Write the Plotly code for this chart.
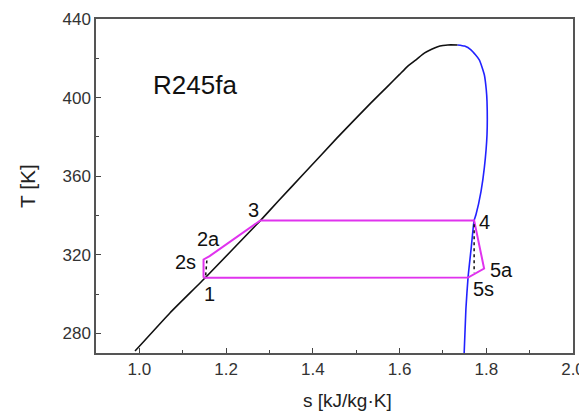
import plotly.graph_objects as go

# Saturated liquid line (black)
liq_s = [0.990, 1.071, 1.152, 1.279, 1.3215, 1.379, 1.4565, 1.5335, 1.572, 1.600, 1.618, 1.640, 1.657, 1.674, 1.688, 1.700, 1.711, 1.734]
liq_T = [271.0, 290.5, 308.3, 337.4, 347.6, 361.2, 379.6, 397.2, 405.6, 411.8, 415.8, 419.6, 422.6, 424.6, 425.9, 426.5, 426.8, 426.8]

# Saturated vapour line (blue)
vap_s = [1.734, 1.750, 1.7647, 1.7839, 1.7955, 1.8000, 1.8017, 1.8017, 1.7955, 1.7879, 1.7763, 1.772, 1.765, 1.758, 1.753, 1.749]
vap_T = [426.8, 426.2, 424.3, 419.2, 411.6, 404.0, 398.0, 381.1, 364.2, 352.3, 340.5, 337.5, 323.0, 308.5, 292.3, 270.0]

# ORC cycle (magenta)
cyc_s = [1.148, 1.148, 1.162, 1.279, 1.772, 1.795, 1.758, 1.148]
cyc_T = [308.3, 317.6, 319.3, 337.5, 337.5, 313.0, 308.4, 308.3]

# Isentropic (dotted) pump and turbine lines
pump_s = [1.153, 1.156]
pump_T = [309.5, 318.3]
turb_s = [1.772, 1.772]
turb_T = [335.5, 311.0]

# State-point labels
lab_text = ["1", "2s", "2a", "3", "4", "5a", "5s"]
lab_s = [1.161, 1.1075, 1.159, 1.2625, 1.797, 1.836, 1.7925]
lab_T = [299.8, 316.4, 328.2, 342.6, 336.9, 312.5, 302.4]

fig = go.Figure()
fig.add_trace(go.Scatter(x=liq_s, y=liq_T, mode="lines",
                         line=dict(color="#111111", width=1.6, shape="spline", smoothing=0.3)))
fig.add_trace(go.Scatter(x=vap_s, y=vap_T, mode="lines",
                         line=dict(color="#2222ff", width=1.6, shape="spline", smoothing=0.5)))
fig.add_trace(go.Scatter(x=cyc_s, y=cyc_T, mode="lines",
                         line=dict(color="#e033ee", width=2)))
fig.add_trace(go.Scatter(x=pump_s, y=pump_T, mode="lines",
                         line=dict(color="#111111", width=1.5, dash="dot")))
fig.add_trace(go.Scatter(x=turb_s, y=turb_T, mode="lines",
                         line=dict(color="#111111", width=1.5, dash="dot")))

font_family = "Liberation Sans, Arial, sans-serif"
annotations = []
for t, s, T in zip(lab_text, lab_s, lab_T):
    annotations.append(dict(x=s, y=T, xref="x", yref="y", text=t, showarrow=False,
                            font=dict(family=font_family, size=20, color="#111111")))
annotations.append(dict(x=1.129, y=406.5, xref="x", yref="y", text="R245fa", showarrow=False,
                        font=dict(family=font_family, size=26, color="#111111")))
annotations.append(dict(x=(347 - 96) / 477, y=-0.106, xref="paper", yref="paper",
                        text="s [kJ/kg·K]", showarrow=False, xanchor="center", yanchor="top",
                        font=dict(family=font_family, size=19, color="#222222")))
annotations.append(dict(x=(27 - 96) / 477, y=0.5, xref="paper", yref="paper",
                        text="T [K]", showarrow=False, textangle=-90,
                        xanchor="center", yanchor="middle",
                        font=dict(family=font_family, size=21, color="#222222")))

# the page body adds an 8 px offset, so margins are reduced accordingly
fig.update_layout(
    width=587, height=414,
    margin=dict(l=88, r=22, t=11, b=69, autoexpand=False),
    paper_bgcolor="white", plot_bgcolor="white",
    showlegend=False,
    annotations=annotations,
    font=dict(family=font_family, color="#333333"),
)
fig.update_xaxes(range=[0.9, 2.0], tickvals=[1.0, 1.2, 1.4, 1.6, 1.8, 2.0],
                 ticktext=["1.0", "1.2", "1.4", "1.6", "1.8", "2.0"],
                 ticks="inside", ticklen=5, tickwidth=1.2, tickcolor="#444444",
                 minor=dict(tickvals=[1.1, 1.3, 1.5, 1.7, 1.9], ticks="inside", ticklen=3,
                            tickcolor="#444444", tickwidth=1.2),
                 showline=True, linecolor="#555555", linewidth=1.5, mirror=True,
                 showgrid=False, zeroline=False, automargin=False,
                 tickfont=dict(family=font_family, size=17, color="#333333"))
fig.update_yaxes(range=[270, 440], tickvals=[280, 320, 360, 400, 440],
                 ticks="inside", ticklen=5, tickwidth=1.2, tickcolor="#444444",
                 minor=dict(tickvals=[300, 340, 380, 420], ticks="inside", ticklen=3,
                            tickcolor="#444444", tickwidth=1.2),
                 showline=True, linecolor="#555555", linewidth=1.5, mirror=True,
                 showgrid=False, zeroline=False, automargin=False,
                 tickfont=dict(family=font_family, size=17, color="#333333"))

fig.write_html("out.html")
